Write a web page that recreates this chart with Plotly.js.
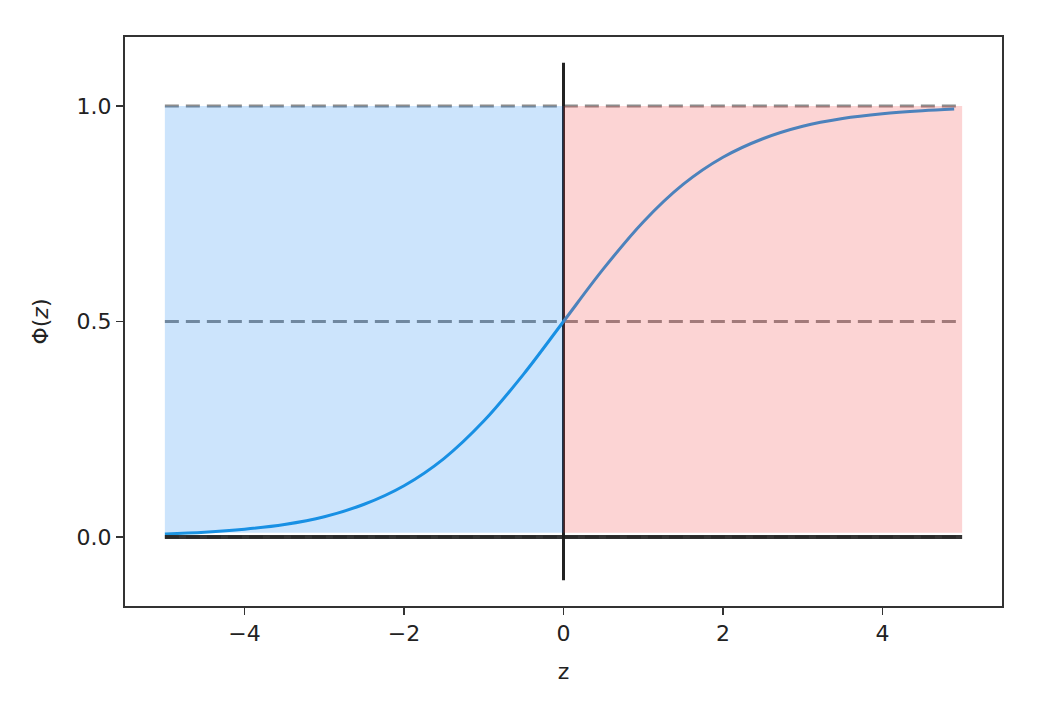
<!DOCTYPE html>
<html>
<head>
<meta charset="utf-8">
<script src="https://cdn.plot.ly/plotly-3.0.1.min.js"></script>
<style>html,body{margin:0;padding:0;background:#fff;}#chart{width:1062px;height:708px;}</style>
</head>
<body>
<div id="chart"></div>
<script>
// Sigmoid curve values
const z   = [-5, -4.5, -4, -3.5, -3, -2.5, -2, -1.5, -1, -0.5, 0, 0.5, 1, 1.5, 2, 2.5, 3, 3.5, 4, 4.5, 4.9];
const phi = [0.007, 0.011, 0.018, 0.029, 0.047, 0.076, 0.119, 0.182, 0.269, 0.378, 0.5, 0.622, 0.731, 0.818, 0.881, 0.924, 0.953, 0.971, 0.982, 0.989, 0.993];

// Horizontal reference levels and their x extent
const hLevels = [0.0, 0.5, 1.0];
const hExtent = [-5, 5];
// Vertical line at z = 0
const vLineX = [0, 0];
const vLineY = [-0.1, 1.1];
// Shaded regions
const blueX = [-5, 0];
const pinkX = [0, 5];
const regionY = [0.01, 1];

const xTicks = [-4, -2, 0, 2, 4];
const yTicks = [0, 0.5, 1.0];

const dashX = [], dashY = [];
hLevels.forEach((h, i) => {
  if (i > 0) { dashX.push(null); dashY.push(null); }
  dashX.push(hExtent[0], hExtent[1]); dashY.push(h, h);
});

function rect(xs, ys) {
  return { x: [xs[0], xs[1], xs[1], xs[0], xs[0]], y: [ys[0], ys[0], ys[1], ys[1], ys[0]] };
}
const bRect = rect(blueX, regionY);
const pRect = rect(pinkX, regionY);

const traces = [
  { x: dashX, y: dashY, mode: 'lines', line: { color: 'rgb(140,140,140)', width: 3, dash: '14px,7px' }, hoverinfo: 'skip' },
  { x: vLineX, y: vLineY, mode: 'lines', line: { color: '#222222', width: 3 }, hoverinfo: 'skip' },
  { x: z, y: phi, mode: 'lines', line: { color: 'rgb(30,150,225)', width: 3, shape: 'spline' } },
  { x: bRect.x, y: bRect.y, mode: 'lines', fill: 'toself', fillcolor: 'rgba(0,120,240,0.2)', line: { width: 0 }, hoverinfo: 'skip' },
  { x: pRect.x, y: pRect.y, mode: 'lines', fill: 'toself', fillcolor: 'rgba(240,60,60,0.22)', line: { width: 0 }, hoverinfo: 'skip' },
  { x: hExtent, y: [0, 0], mode: 'lines', line: { color: 'rgba(30,30,30,0.9)', width: 4 }, hoverinfo: 'skip' }
];

const font = { family: 'DejaVu Sans', size: 22, color: '#222' };
const layout = {
  width: 1062, height: 708,
  margin: { l: 125, r: 60, t: 37, b: 102 },
  paper_bgcolor: '#fff', plot_bgcolor: '#fff',
  showlegend: false,
  font: font,
  xaxis: {
    range: [-5.5, 5.5], tickvals: xTicks,
    showline: true, linecolor: '#333', linewidth: 2, mirror: true,
    ticks: 'outside', ticklen: 7, tickwidth: 1.8, tickcolor: '#333',
    showgrid: false, zeroline: false,
    tickfont: font,
    title: { text: 'z', font: font, standoff: 18 }
  },
  yaxis: {
    range: [-0.16, 1.16], tickvals: yTicks, tickformat: '.1f',
    showline: true, linecolor: '#333', linewidth: 2, mirror: true,
    ticks: 'outside', ticklen: 7, tickwidth: 1.8, tickcolor: '#333',
    showgrid: false, zeroline: false,
    tickfont: font,
    title: { text: 'Φ(<i>z</i>)', font: font, standoff: 22 }
  }
};

Plotly.newPlot('chart', traces, layout, { displayModeBar: false, staticPlot: true });
</script>
</body>
</html>
